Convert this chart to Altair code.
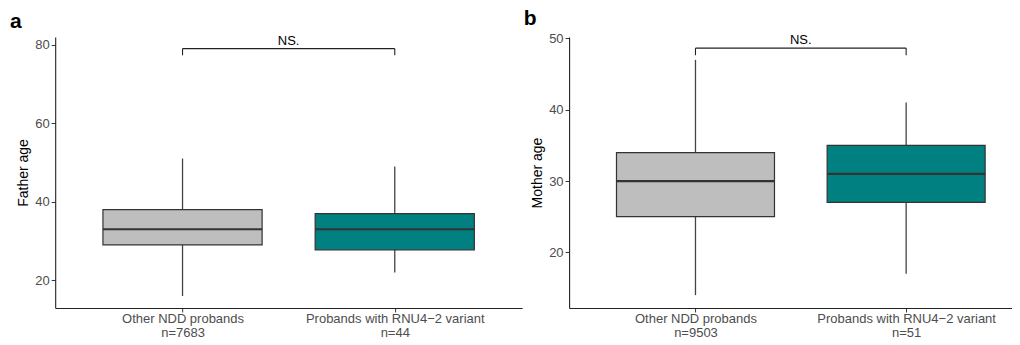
import altair as alt
import pandas as pd

FONT = "Liberation Sans"

groups = ["Other NDD probands", "Probands with RNU4−2 variant"]
positions = [1, 2]
box_colors = ["#BEBEBE", "#008080"]
box_halfwidth = 0.375

father_n = [7683, 44]
father_lower = [16, 22]
father_q1 = [29, 27.75]
father_median = [33, 33]
father_q3 = [38, 37]
father_upper = [51, 49]
father_bracket = [79.0, 77.3]
father_ticks = [20, 40, 60, 80]

mother_n = [9503, 51]
mother_lower = [14, 17]
mother_q1 = [25, 27]
mother_median = [30, 31]
mother_q3 = [34, 35]
mother_upper = [47, 41]
mother_bracket = [48.65, 47.65]
mother_ticks = [20, 30, 40, 50]

sig_label = "NS."
INK = "#333333"
LABEL = "#4D4D4D"


def panel(letter, ytitle, n, lower, q1, med, q3, upper, bracket, ticks,
          ydom, xdom, w, h):
    df = pd.DataFrame({
        "group": groups, "pos": positions, "n": n,
        "lower": lower, "q1": q1, "median": med, "q3": q3, "upper": upper,
    })
    df["left"] = df["pos"] - box_halfwidth
    df["right"] = df["pos"] + box_halfwidth

    parts = []
    for i, (g, k) in enumerate(zip(groups, n)):
        parts.append((positions[i], f"['{g}', 'n={k}']"))
    label_expr = f"datum.value == {parts[0][0]} ? {parts[0][1]} : {parts[1][1]}"

    xscale = alt.Scale(domain=xdom, nice=False, zero=False)
    yscale = alt.Scale(domain=ydom, nice=False, zero=False)
    xaxis = alt.Axis(values=positions, labelExpr=label_expr, title=None,
                     grid=False, tickSize=4, labelPadding=1, labelFlush=False,
                     labelOverlap=False, labelLineHeight=13.5, labelFontSize=13,
                     labelColor=LABEL, domainColor="#222222", tickColor=INK,
                     domainWidth=1.1)
    yaxis = alt.Axis(values=ticks, title=ytitle, grid=False, tickSize=4,
                     labelPadding=2, labelFontSize=13, labelColor=LABEL,
                     titleFontSize=14, titleFontWeight="normal",
                     titleColor="black", titlePadding=4,
                     domainColor="#222222", tickColor=INK, domainWidth=1.1)

    base = alt.Chart(df)
    whisk = base.mark_rule(color="#444444", strokeWidth=1.3).encode(
        x=alt.X("pos:Q", scale=xscale, axis=xaxis),
        y=alt.Y("lower:Q", scale=yscale, axis=yaxis),
        y2="upper:Q",
    )
    box = base.mark_bar(stroke=INK, strokeWidth=1.2).encode(
        x=alt.X("left:Q", scale=xscale, axis=xaxis),
        x2="right:Q",
        y=alt.Y("q1:Q", scale=yscale, axis=yaxis),
        y2="q3:Q",
        fill=alt.Fill("group:N", scale=alt.Scale(domain=groups, range=box_colors),
                      legend=None),
    )
    medline = base.mark_rule(color=INK, strokeWidth=2.2).encode(
        x=alt.X("left:Q", scale=xscale, axis=xaxis),
        x2="right:Q",
        y=alt.Y("median:Q", scale=yscale, axis=yaxis),
    )

    bdf = pd.DataFrame({"x1": [positions[0]], "x2": [positions[1]],
                        "y": [bracket[0]], "tip": [bracket[1]],
                        "mid": [sum(positions) / 2], "label": [sig_label]})
    bar_h = alt.Chart(bdf).mark_rule(color="#222222", strokeWidth=1.1).encode(
        x=alt.X("x1:Q", scale=xscale, axis=xaxis), x2="x2:Q",
        y=alt.Y("y:Q", scale=yscale, axis=yaxis),
    )
    edf = pd.DataFrame({"x": positions, "y": [bracket[0]] * 2,
                        "tip": [bracket[1]] * 2})
    bar_v = alt.Chart(edf).mark_rule(color="#222222", strokeWidth=1.1).encode(
        x=alt.X("x:Q", scale=xscale, axis=xaxis),
        y=alt.Y("tip:Q", scale=yscale, axis=yaxis), y2="y:Q",
    )
    txt = alt.Chart(bdf).mark_text(font=FONT, fontSize=13, color="black",
                                   baseline="bottom", dy=-1).encode(
        x=alt.X("mid:Q", scale=xscale, axis=xaxis),
        y=alt.Y("y:Q", scale=yscale, axis=yaxis),
        text="label:N",
    )

    return alt.layer(whisk, box, medline, bar_h, bar_v, txt).properties(
        width=w, height=h,
        title=alt.TitleParams(text=letter, anchor="start", frame="group",
                              dx=-45.3, offset=3, fontSize=21,
                              fontWeight="bold", font=FONT, color="black"),
    )


pa = panel("a", "Father age", father_n, father_lower, father_q1, father_median,
           father_q3, father_upper, father_bracket, father_ticks,
           [12.95, 81.95], [0.4, 2.6], 467, 271)
wb = 443
pb = panel("b", "Mother age", mother_n, mother_lower, mother_q1, mother_median,
           mother_q3, mother_upper, mother_bracket, mother_ticks,
           [12.2, 50.2], [0.4, 0.4 + wb / 210.7], wb, 271)

chart = alt.hconcat(pa, pb, spacing=1).properties(
    padding={"left": 1.2, "top": 0, "right": 0, "bottom": 0},
    background="white",
).configure_view(stroke=None).configure_axis(
    labelFont=FONT, titleFont=FONT
).configure_text(font=FONT)

chart.save("out.html", embed_options={"renderer": "svg", "actions": False})
